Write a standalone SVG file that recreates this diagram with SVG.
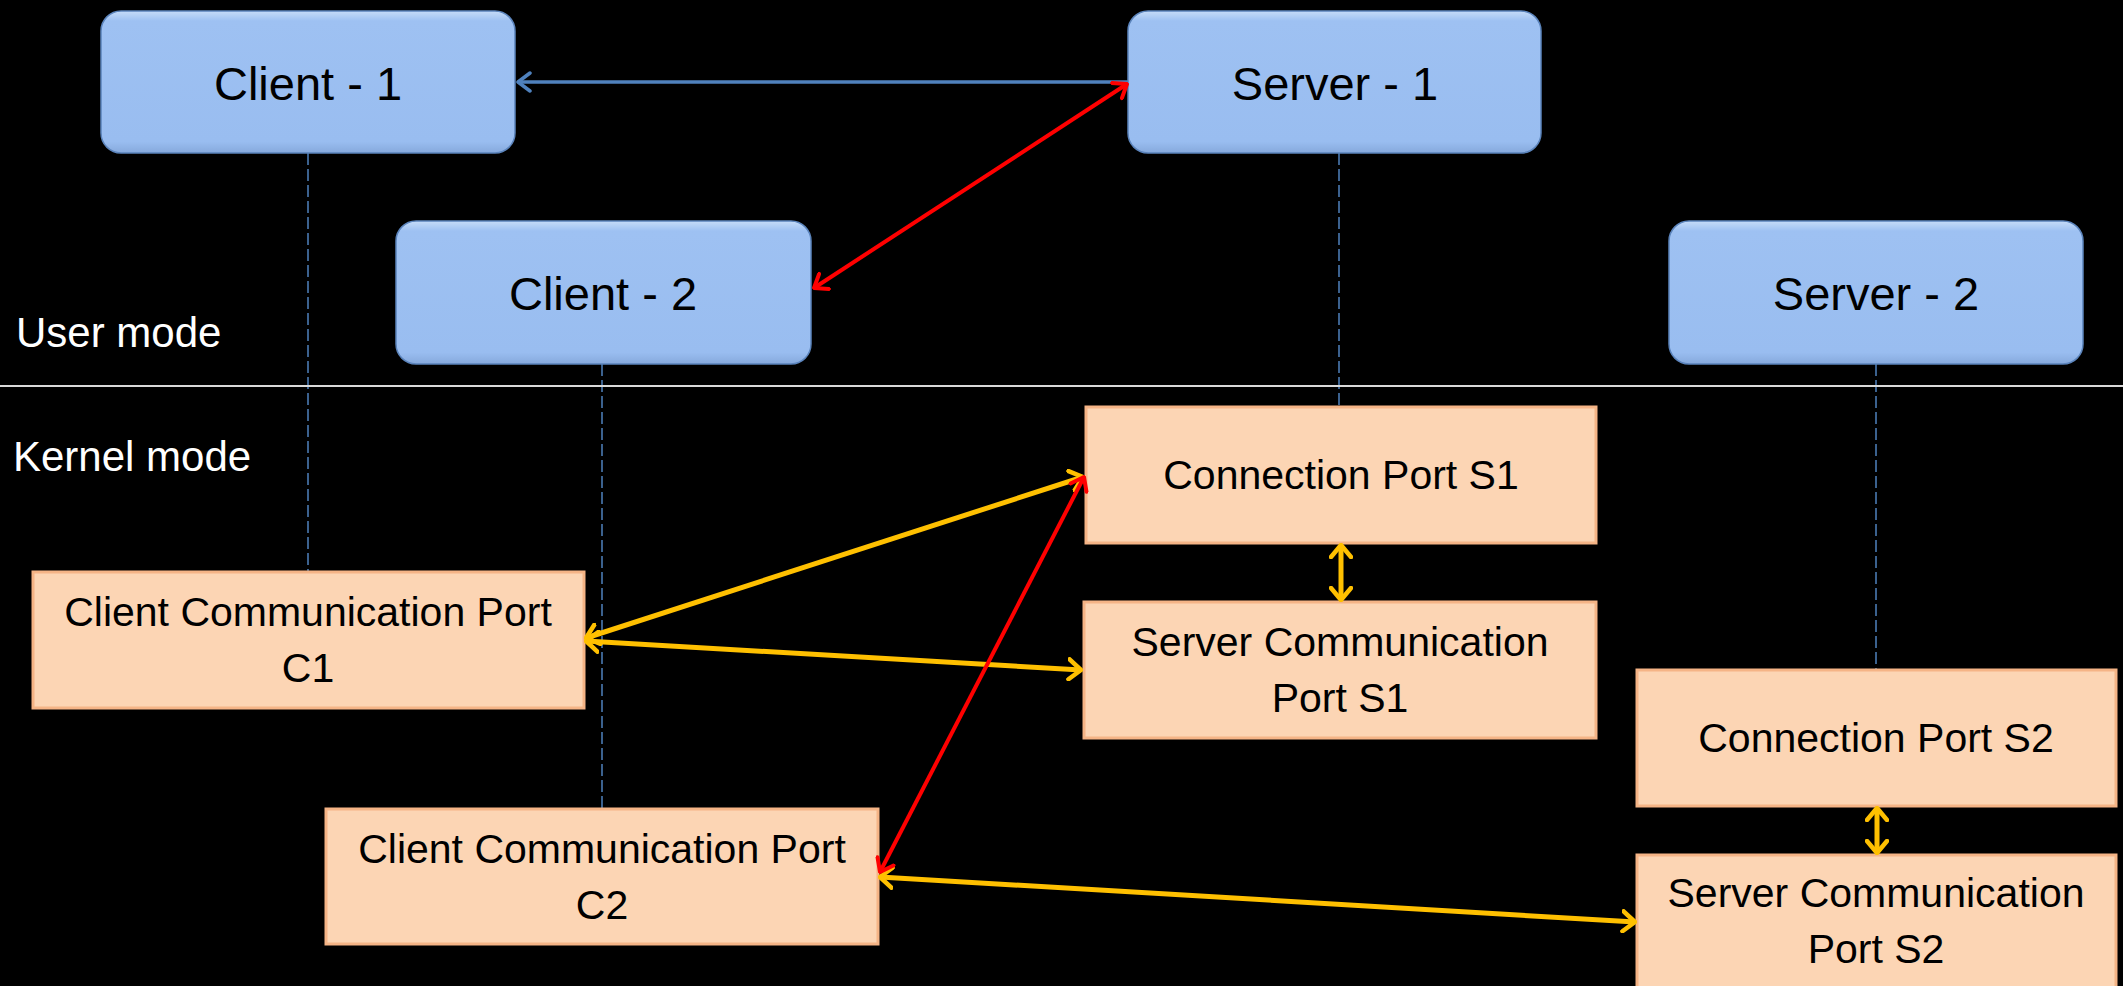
<svg xmlns="http://www.w3.org/2000/svg" width="2123" height="986" viewBox="0 0 2123 986">
<style>
.bg{fill:#000}
.blue{fill:url(#gBlue);stroke:#5B84BC;stroke-width:1.5}
.orange{fill:#FCD5B4;stroke:#F5B486;stroke-width:3}
.lbl{font-family:"Liberation Sans",Arial,sans-serif;fill:#000;text-anchor:middle}
.big{font-size:47px}
.mid{font-size:41px}
.mode{font-family:"Liberation Sans",Arial,sans-serif;font-size:42px;fill:#fff}
.life{stroke:#4F81BD;stroke-width:1.5;stroke-dasharray:12 4;fill:none}
.cb{stroke:#4F81BD;stroke-width:3.5;fill:none}
.cr{stroke:#FF0000;stroke-width:4;fill:none}
.cy{stroke:#FFC000;stroke-width:5;fill:none}
</style>
<defs>
<linearGradient id="gBlue" x1="0" y1="0" x2="0" y2="1">
<stop offset="0" stop-color="#C6DCF8"/>
<stop offset="0.07" stop-color="#9EC1F2"/>
<stop offset="0.92" stop-color="#99BDF0"/>
<stop offset="1" stop-color="#86A9DC"/>
</linearGradient>
<marker id="aB" viewBox="0 0 16 22" refX="14" refY="11" markerWidth="16" markerHeight="22" markerUnits="userSpaceOnUse" orient="auto-start-reverse">
<path d="M2,2 L14,11 L2,20" fill="none" stroke="#4F81BD" stroke-width="3.5" stroke-linejoin="round" stroke-linecap="round"/>
</marker>
<marker id="aR" viewBox="0 0 16 22" refX="14" refY="11" markerWidth="16" markerHeight="22" markerUnits="userSpaceOnUse" orient="auto-start-reverse">
<path d="M2,2 L14,11 L2,20" fill="none" stroke="#FF0000" stroke-width="4" stroke-linejoin="round" stroke-linecap="round"/>
</marker>
<marker id="aY" viewBox="0 0 16 24" refX="14" refY="12" markerWidth="16" markerHeight="24" markerUnits="userSpaceOnUse" orient="auto-start-reverse">
<path d="M2,2 L14,12 L2,22" fill="none" stroke="#FFC000" stroke-width="4.5" stroke-linejoin="round" stroke-linecap="round"/>
</marker>
</defs>
<rect class="bg" x="0" y="0" width="2123" height="986"/>

<g id="lifelines">
<line class="life" x1="308" y1="153" x2="308" y2="572"/>
<line class="life" x1="602" y1="364" x2="602" y2="809"/>
<line class="life" x1="1339" y1="153" x2="1339" y2="407"/>
<line class="life" x1="1876" y1="364" x2="1876" y2="670"/>
</g>

<line id="divider" x1="0" y1="386" x2="2123" y2="386" stroke="#D9D9D9" stroke-width="2"/>
<text class="mode" x="16" y="347">User mode</text>
<text class="mode" x="13" y="471">Kernel mode</text>

<g id="client1"><rect class="blue" x="101" y="11" width="414" height="142" rx="20"/><text class="lbl big" x="308" y="100">Client - 1</text></g>
<g id="server1"><rect class="blue" x="1128" y="11" width="413" height="142" rx="20"/><text class="lbl big" x="1335" y="100">Server - 1</text></g>
<g id="client2"><rect class="blue" x="396" y="221" width="415" height="143" rx="20"/><text class="lbl big" x="603" y="310">Client - 2</text></g>
<g id="server2"><rect class="blue" x="1669" y="221" width="414" height="143" rx="20"/><text class="lbl big" x="1876" y="310">Server - 2</text></g>

<g id="connPortS1"><rect class="orange" x="1086" y="407" width="510" height="136"/><text class="lbl mid" x="1341" y="489">Connection Port S1</text></g>
<g id="servCommS1"><rect class="orange" x="1084" y="602" width="512" height="136"/><text class="lbl mid" x="1340" y="656">Server Communication</text><text class="lbl mid" x="1340" y="712">Port S1</text></g>
<g id="connPortS2"><rect class="orange" x="1637" y="670" width="479" height="136"/><text class="lbl mid" x="1876" y="752">Connection Port S2</text></g>
<g id="servCommS2"><rect class="orange" x="1637" y="855" width="479" height="140"/><text class="lbl mid" x="1876" y="907">Server Communication</text><text class="lbl mid" x="1876" y="963">Port S2</text></g>
<g id="clientCommC1"><rect class="orange" x="33" y="572" width="551" height="136"/><text class="lbl mid" x="308" y="626">Client Communication Port</text><text class="lbl mid" x="308" y="682">C1</text></g>
<g id="clientCommC2"><rect class="orange" x="326" y="809" width="552" height="135"/><text class="lbl mid" x="602" y="863">Client Communication Port</text><text class="lbl mid" x="602" y="919">C2</text></g>

<g id="connectors">
<line class="cb" x1="1128" y1="82" x2="518" y2="82" marker-end="url(#aB)"/>
<line class="cr" x1="1127" y1="84" x2="814" y2="288" marker-start="url(#aR)" marker-end="url(#aR)"/>
<line class="cy" x1="586" y1="638" x2="1083" y2="477" marker-start="url(#aY)" marker-end="url(#aY)"/>
<line class="cy" x1="586" y1="641" x2="1081" y2="670" marker-start="url(#aY)" marker-end="url(#aY)"/>
<line class="cy" x1="880" y1="877" x2="1635" y2="922" marker-start="url(#aY)" marker-end="url(#aY)"/>
<line class="cy" x1="1341" y1="545" x2="1341" y2="600" marker-start="url(#aY)" marker-end="url(#aY)"/>
<line class="cy" x1="1877" y1="808" x2="1877" y2="853" marker-start="url(#aY)" marker-end="url(#aY)"/>
<line class="cr" x1="880" y1="872" x2="1084" y2="477" marker-start="url(#aR)" marker-end="url(#aR)"/>
</g>
</svg>
